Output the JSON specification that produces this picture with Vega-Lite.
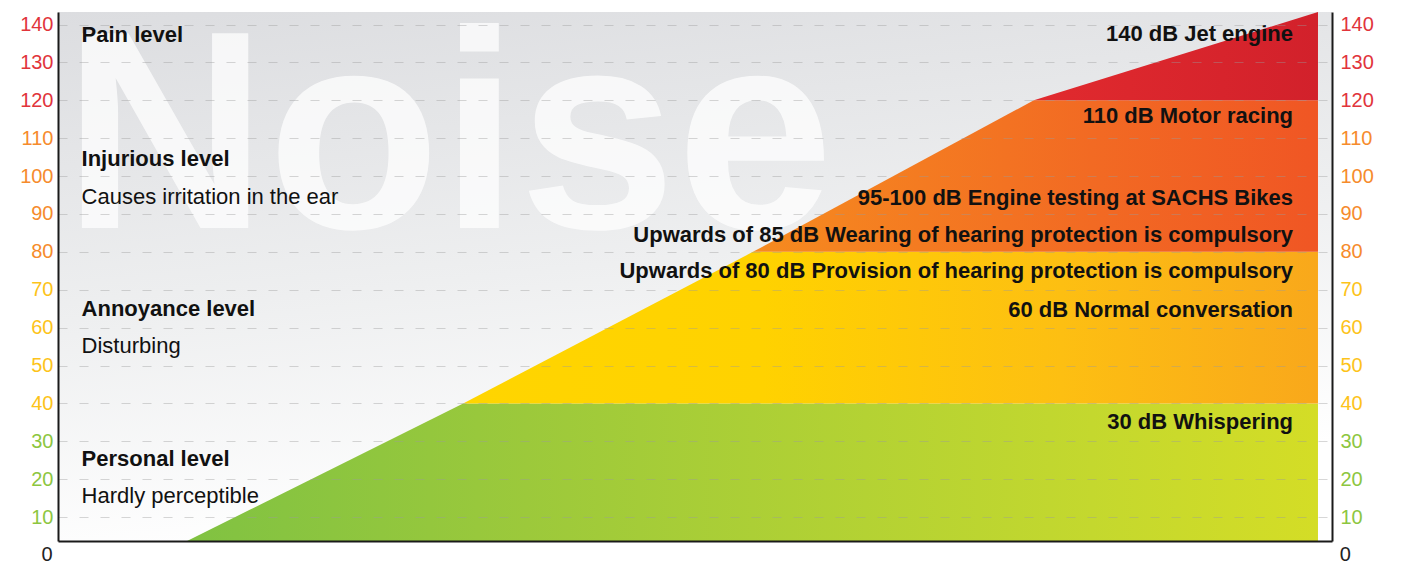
{
  "$schema": "https://vega.github.io/schema/vega-lite/v6.json",
  "width": 1274,
  "height": 529,
  "autosize": {"type": "none"},
  "padding": {"left": 58, "top": 12, "right": 72, "bottom": 22},
  "background": "#ffffff",
  "config": {
    "font": "Liberation Sans",
    "view": {
      "stroke": null,
      "fill": {
        "gradient": "linear",
        "x1": 0, "y1": 0, "x2": 0.25, "y2": 1,
        "stops": [
          {"offset": 0, "color": "#dcdde0"},
          {"offset": 0.55, "color": "#eeeff0"},
          {"offset": 1, "color": "#ffffff"}
        ]
      }
    }
  },
  "datasets": {
    "bands": [
      {"band": "green", "x": 10.13, "top": 3.7, "bottom": 3.7},
      {"band": "green", "x": 31.8, "top": 40, "bottom": 3.7},
      {"band": "green", "x": 98.9, "top": 40, "bottom": 3.7},
      {"band": "yellow", "x": 31.8, "top": 40, "bottom": 40},
      {"band": "yellow", "x": 54.55, "top": 80, "bottom": 40},
      {"band": "yellow", "x": 98.9, "top": 80, "bottom": 40},
      {"band": "orange", "x": 54.55, "top": 80, "bottom": 80},
      {"band": "orange", "x": 76.6, "top": 120, "bottom": 80},
      {"band": "orange", "x": 98.9, "top": 120, "bottom": 80},
      {"band": "red", "x": 76.6, "top": 120, "bottom": 120},
      {"band": "red", "x": 98.9, "top": 143.3, "bottom": 120}
    ],
    "watermark": [{"label": "Noise", "x": 0.39, "y": 86.3}],
    "leftBold": [
      {"label": "Pain level", "x": 1.85, "y": 135.4},
      {"label": "Injurious level", "x": 1.85, "y": 102.6},
      {"label": "Annoyance level", "x": 1.85, "y": 63.0},
      {"label": "Personal level", "x": 1.85, "y": 23.6}
    ],
    "leftRegular": [
      {"label": "Causes irritation in the ear", "x": 1.85, "y": 92.6},
      {"label": "Disturbing", "x": 1.85, "y": 53.2},
      {"label": "Hardly perceptible", "x": 1.85, "y": 13.8}
    ],
    "right": [
      {"label": "140 dB Jet engine", "x": 96.94, "y": 135.6},
      {"label": "110 dB Motor racing", "x": 96.94, "y": 114.1},
      {"label": "95-100 dB Engine testing at SACHS Bikes", "x": 96.94, "y": 92.3},
      {"label": "Upwards of 85 dB Wearing of hearing protection is compulsory", "x": 96.94, "y": 82.6},
      {"label": "Upwards of 80 dB Provision of hearing protection is compulsory", "x": 96.94, "y": 73.1},
      {"label": "60 dB Normal conversation", "x": 96.94, "y": 62.8},
      {"label": "30 dB Whispering", "x": 96.94, "y": 33.2}
    ],
    "zeroLeft": [{"label": "0", "x": -0.42, "y": 0}],
    "zeroRight": [{"label": "0", "x": 100.6, "y": 0}]
  },
  "resolve": {"axis": {"y": "independent", "x": "independent"}},
  "layer": [
    {
      "data": {"name": "watermark"},
      "mark": {"type": "text", "align": "left", "baseline": "alphabetic", "fontSize": 283, "fontWeight": "bold", "font": "Liberation Sans", "color": "#ffffff", "opacity": 0.75},
      "encoding": {
        "x": {"field": "x", "type": "quantitative", "scale": {"domain": [0, 100]},
          "axis": {"labels": false, "ticks": false, "grid": false, "title": null, "domainColor": "#1a1a1a", "domainWidth": 2, "zindex": 2}},
        "y": {"field": "y", "type": "quantitative", "scale": {"domain": [3.7, 143.3], "nice": false, "zero": false},
          "axis": {"orient": "left", "values": [10, 20, 30, 40, 50, 60, 70, 80, 90, 100, 110, 120, 130, 140],
            "grid": true, "gridDash": [9, 12], "gridColor": "#9a9a9a", "gridOpacity": 0.4, "ticks": false,
            "domainColor": "#1a1a1a", "domainWidth": 2, "labelFontSize": 20, "labelFont": "Liberation Sans",
            "labelPadding": 5, "title": null, "zindex": 1,
            "labelColor": {"expr": "datum.value >= 115 ? '#e1343b' : datum.value >= 75 ? '#f68b2c' : datum.value >= 35 ? '#fdc31a' : '#8dc63f'"}}},
        "text": {"field": "label"}
      }
    },
    {
      "data": {"name": "bands"},
      "transform": [{"filter": "datum.band == 'green'"}],
      "mark": {"type": "area", "color": {"gradient": "linear", "x1": 0, "y1": 0, "x2": 1, "y2": 0,
        "stops": [{"offset": 0, "color": "#80c242"}, {"offset": 0.3, "color": "#9cc93b"}, {"offset": 0.8, "color": "#c4d82e"}, {"offset": 1, "color": "#d4dd26"}]}},
      "encoding": {
        "x": {"field": "x", "type": "quantitative", "scale": {"domain": [0, 100]}, "axis": null},
        "y": {"field": "top", "type": "quantitative", "scale": {"domain": [3.7, 143.3], "nice": false, "zero": false}, "axis": null},
        "y2": {"field": "bottom"}
      }
    },
    {
      "data": {"name": "bands"},
      "transform": [{"filter": "datum.band == 'yellow'"}],
      "mark": {"type": "area", "color": {"gradient": "linear", "x1": 0, "y1": 0, "x2": 1, "y2": 0,
        "stops": [{"offset": 0, "color": "#ffd500"}, {"offset": 0.35, "color": "#ffd200"}, {"offset": 0.7, "color": "#fdbf12"}, {"offset": 1, "color": "#f9a81b"}]}},
      "encoding": {
        "x": {"field": "x", "type": "quantitative", "scale": {"domain": [0, 100]}, "axis": null},
        "y": {"field": "top", "type": "quantitative", "scale": {"domain": [3.7, 143.3], "nice": false, "zero": false}, "axis": null},
        "y2": {"field": "bottom"}
      }
    },
    {
      "data": {"name": "bands"},
      "transform": [{"filter": "datum.band == 'orange'"}],
      "mark": {"type": "area", "color": {"gradient": "linear", "x1": 0, "y1": 0, "x2": 1, "y2": 0,
        "stops": [{"offset": 0, "color": "#f68b1f"}, {"offset": 0.6, "color": "#f26a23"}, {"offset": 1, "color": "#f05624"}]}},
      "encoding": {
        "x": {"field": "x", "type": "quantitative", "scale": {"domain": [0, 100]}, "axis": null},
        "y": {"field": "top", "type": "quantitative", "scale": {"domain": [3.7, 143.3], "nice": false, "zero": false}, "axis": null},
        "y2": {"field": "bottom"}
      }
    },
    {
      "data": {"name": "bands"},
      "transform": [{"filter": "datum.band == 'red'"}],
      "mark": {"type": "area", "color": {"gradient": "linear", "x1": 0, "y1": 0, "x2": 1, "y2": 0,
        "stops": [{"offset": 0, "color": "#e12a2e"}, {"offset": 1, "color": "#d2212b"}]}},
      "encoding": {
        "x": {"field": "x", "type": "quantitative", "scale": {"domain": [0, 100]}, "axis": null},
        "y": {"field": "top", "type": "quantitative", "scale": {"domain": [3.7, 143.3], "nice": false, "zero": false}, "axis": null},
        "y2": {"field": "bottom"}
      }
    },
    {
      "data": {"name": "leftBold"},
      "mark": {"type": "text", "align": "left", "baseline": "alphabetic", "fontSize": 22, "fontWeight": "bold", "font": "Liberation Sans", "color": "#111111"},
      "encoding": {
        "x": {"field": "x", "type": "quantitative", "scale": {"domain": [0, 100]}, "axis": null},
        "y": {"field": "y", "type": "quantitative", "scale": {"domain": [3.7, 143.3], "nice": false, "zero": false}, "axis": null},
        "text": {"field": "label"}
      }
    },
    {
      "data": {"name": "leftRegular"},
      "mark": {"type": "text", "align": "left", "baseline": "alphabetic", "fontSize": 22, "font": "Liberation Sans", "color": "#111111"},
      "encoding": {
        "x": {"field": "x", "type": "quantitative", "scale": {"domain": [0, 100]}, "axis": null},
        "y": {"field": "y", "type": "quantitative", "scale": {"domain": [3.7, 143.3], "nice": false, "zero": false}, "axis": null},
        "text": {"field": "label"}
      }
    },
    {
      "data": {"name": "right"},
      "mark": {"type": "text", "align": "right", "baseline": "alphabetic", "fontSize": 22, "fontWeight": "bold", "font": "Liberation Sans", "color": "#111111"},
      "encoding": {
        "x": {"field": "x", "type": "quantitative", "scale": {"domain": [0, 100]}, "axis": null},
        "y": {"field": "y", "type": "quantitative", "scale": {"domain": [3.7, 143.3], "nice": false, "zero": false},
          "axis": {"orient": "right", "values": [10, 20, 30, 40, 50, 60, 70, 80, 90, 100, 110, 120, 130, 140],
            "grid": false, "ticks": false, "domainColor": "#1a1a1a", "domainWidth": 2, "labelFontSize": 20,
            "labelFont": "Liberation Sans", "labelPadding": 8, "title": null, "zindex": 1,
            "labelColor": {"expr": "datum.value >= 115 ? '#e1343b' : datum.value >= 75 ? '#f68b2c' : datum.value >= 35 ? '#fdc31a' : '#8dc63f'"}}},
        "text": {"field": "label"}
      }
    },
    {
      "data": {"name": "zeroLeft"},
      "mark": {"type": "text", "align": "right", "baseline": "middle", "fontSize": 20, "font": "Liberation Sans", "color": "#222222"},
      "encoding": {
        "x": {"field": "x", "type": "quantitative", "scale": {"domain": [0, 100]}, "axis": null},
        "y": {"field": "y", "type": "quantitative", "scale": {"domain": [3.7, 143.3], "nice": false, "zero": false}, "axis": null},
        "text": {"field": "label"}
      }
    },
    {
      "data": {"name": "zeroRight"},
      "mark": {"type": "text", "align": "left", "baseline": "middle", "fontSize": 20, "font": "Liberation Sans", "color": "#222222"},
      "encoding": {
        "x": {"field": "x", "type": "quantitative", "scale": {"domain": [0, 100]}, "axis": null},
        "y": {"field": "y", "type": "quantitative", "scale": {"domain": [3.7, 143.3], "nice": false, "zero": false}, "axis": null},
        "text": {"field": "label"}
      }
    }
  ]
}
